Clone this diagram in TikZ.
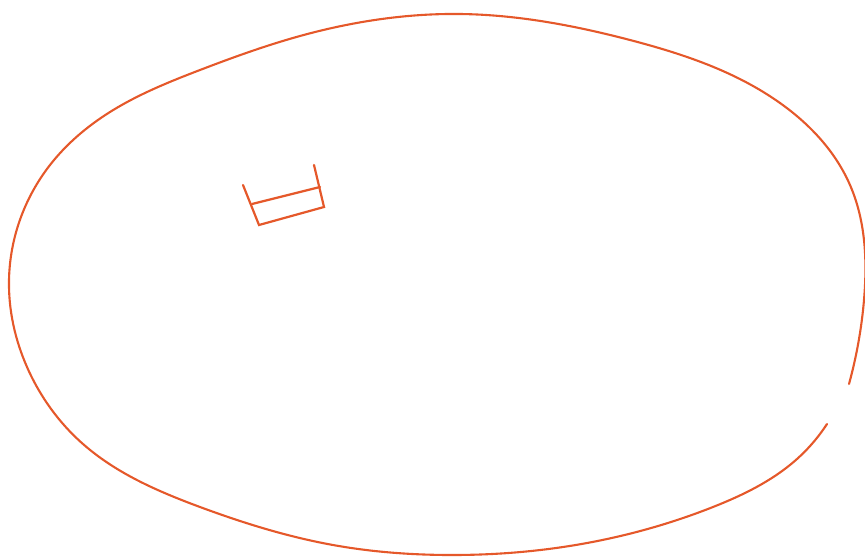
\documentclass[tikz,border=0pt]{standalone}
\usepackage{tikz}
\usetikzlibrary{hobby}
\definecolor{rborange}{HTML}{E5582A}
\tikzset{
  rim/.style  = {draw=rborange, line width=2.1pt, line cap=round, use Hobby shortcut},
  tray/.style = {draw=rborange, line width=2.2pt, line cap=round, line join=miter},
}
\begin{document}
\begin{tikzpicture}[x=1pt,y=-1pt]
  \useasboundingbox (0,0) rectangle (865,557);
  % open outline, gap at the lower right
  \draw[rim] (849,384) .. (864,300) .. (850,185) .. (780,103)
    .. (630,40) .. (460,14) .. (300,36) .. (200,70)
    .. (110,112) .. (50,165) .. (9,280) .. (27,367)
    .. (83,444) .. (200,507) .. (333,545) .. (450,555)
    .. (563,547) .. (713,507) .. (797,459) .. (827,424);
  % small bracket
  \draw[tray] (243,185) -- (259,225) -- (324,207) -- (314,165);
  \draw[tray] (252,204) -- (320,187);
\end{tikzpicture}
\end{document}
